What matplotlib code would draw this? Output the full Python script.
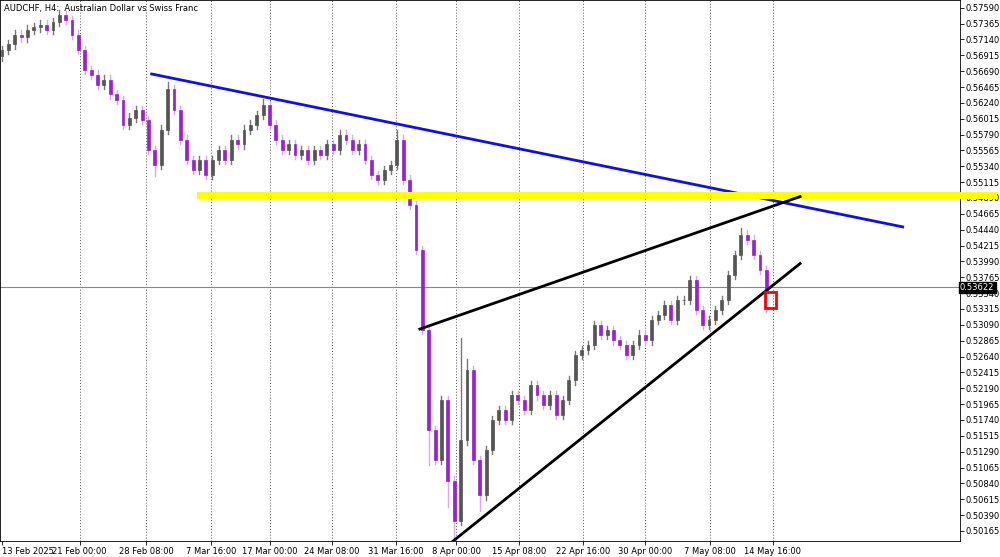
import numpy as np
import matplotlib.pyplot as plt

plt.rcParams["font.family"] = "DejaVu Sans"

# H4 closes (open = previous close)
closes = [0.5699, 0.5707, 0.5721, 0.5717, 0.5728, 0.5731, 0.5735, 0.5728, 0.5739, 0.5749,
          0.5742, 0.5721, 0.5699, 0.5671, 0.5664, 0.5650, 0.5657, 0.5636, 0.5628, 0.5593,
          0.5603, 0.5614, 0.5600, 0.5557, 0.5536, 0.5586, 0.5643, 0.5614, 0.5572, 0.5543,
          0.5529, 0.5543, 0.5522, 0.5543, 0.5557, 0.5543, 0.5572, 0.5565, 0.5586, 0.5593,
          0.5607, 0.5621, 0.5593, 0.5572, 0.5557, 0.5565, 0.5550, 0.5557, 0.5543, 0.5557,
          0.5550, 0.5565, 0.5557, 0.5579, 0.5572, 0.5557, 0.5565, 0.5543, 0.5522, 0.5515,
          0.5529, 0.5536, 0.5572, 0.5515, 0.5479, 0.5415, 0.5302, 0.5160, 0.5117, 0.5202,
          0.5088, 0.5031, 0.5145, 0.5245, 0.5117, 0.5067, 0.5131, 0.5174, 0.5188, 0.5174,
          0.5209, 0.5202, 0.5188, 0.5223, 0.5209, 0.5195, 0.5209, 0.5181, 0.5202, 0.5230,
          0.5266, 0.5273, 0.5280, 0.5309, 0.5295, 0.5302, 0.5287, 0.5280, 0.5266, 0.5280,
          0.5295, 0.5287, 0.5316, 0.5323, 0.5337, 0.5316, 0.5344, 0.5344, 0.5373, 0.5330,
          0.5309, 0.5316, 0.5330, 0.5344, 0.5380, 0.5408, 0.5437, 0.5430, 0.5408, 0.5387,
          0.5358]
first_open = 0.5690
# wick extremes that stick out from the usual range
spike_highs = {9: 0.5756, 26: 0.5654, 41: 0.5630, 62: 0.5585, 72: 0.5290, 73: 0.5260, 116: 0.5446}
spike_lows = {24: 0.5520, 67: 0.5110, 70: 0.5050, 71: 0.5003, 75: 0.5045, 120: 0.5327}

ytick_vals = np.round(np.arange(0.50165, 0.57600, 0.00225), 5)
xtick_pos = [0, 12.2, 22.6, 32.8, 42.1, 51.8, 61.9, 71.3, 81.2, 91.2, 101, 111.1, 121.0]
xtick_labels = ["13 Feb 2025", "21 Feb 00:00", "28 Feb 08:00", "7 Mar 16:00", "17 Mar 00:00",
                "24 Mar 08:00", "31 Mar 16:00", "8 Apr 00:00", "15 Apr 08:00", "22 Apr 16:00",
                "30 Apr 00:00", "7 May 08:00", "14 May 16:00"]
last_price = 0.53622

fig = plt.figure(figsize=(10, 5.57), dpi=100)
ax = fig.add_axes([0.0, 16 / 557, 0.96, 541 / 557])

opens = [first_open] + closes[:-1]
for i, (o, c) in enumerate(zip(opens, closes)):
    up = c >= o
    hi = spike_highs.get(i, max(o, c) + 0.0006)
    lo = spike_lows.get(i, min(o, c) - 0.0006)
    body_col = "#555555" if up else "#9a1fd6"
    wick_col = "#777777" if up else "#d9a6f0"
    ax.plot([i, i], [lo, hi], color=wick_col, lw=1, zorder=2)
    ax.bar(i, max(abs(c - o), 0.00008), bottom=min(o, c), width=0.45,
           color=body_col, edgecolor=body_col, lw=0.5, zorder=3)

# drawn objects
ax.plot([23.5, 141.4], [0.5665, 0.5448], color="#1010e0", lw=2, zorder=4)
ax.plot([31.1, 155.6], [0.5493, 0.5493], color="#ffff00", lw=5, zorder=4, clip_on=False)
ax.plot([65.6, 125.3], [0.5303, 0.5491], color="black", lw=2, zorder=4)
ax.plot([70.8, 125.3], [0.5002, 0.5396], color="black", lw=2, zorder=4)
ax.add_patch(plt.Rectangle((119.8, 0.5333), 1.7, 0.0023, fill=False, ec="red", lw=2, zorder=5))
ax.axhline(last_price, color="#888888", lw=0.8, zorder=1)

ax.set_xlim(-0.31, 150.4)
ax.set_ylim(0.50022, 0.5770)
ax.yaxis.tick_right()
ax.set_yticks(ytick_vals)
ax.set_yticklabels([f"{v:.5f}" for v in ytick_vals], fontsize=6)
ax.set_xticks(xtick_pos)
ax.set_xticklabels(xtick_labels, fontsize=6)
ax.get_xticklabels()[0].set_horizontalalignment("left")
ax.tick_params(length=3, pad=1, width=0.6)
for x in xtick_pos[1:]:
    ax.axvline(x, color="#555555", ls=(0, (1, 2)), lw=0.7, zorder=0)
for s in ax.spines.values():
    s.set_linewidth(0.6)

ax.text(1.0, last_price, f"{last_price:.5f}", transform=ax.get_yaxis_transform(),
        fontsize=6, color="white", va="center", ha="left",
        bbox=dict(boxstyle="square,pad=0.15", fc="black", ec="black"))
ax.text(0.004, 0.992, "AUDCHF, H4:  Australian Dollar vs Swiss Franc", transform=ax.transAxes,
        fontsize=6, va="top", ha="left")

fig.savefig("out.png", dpi=100)
